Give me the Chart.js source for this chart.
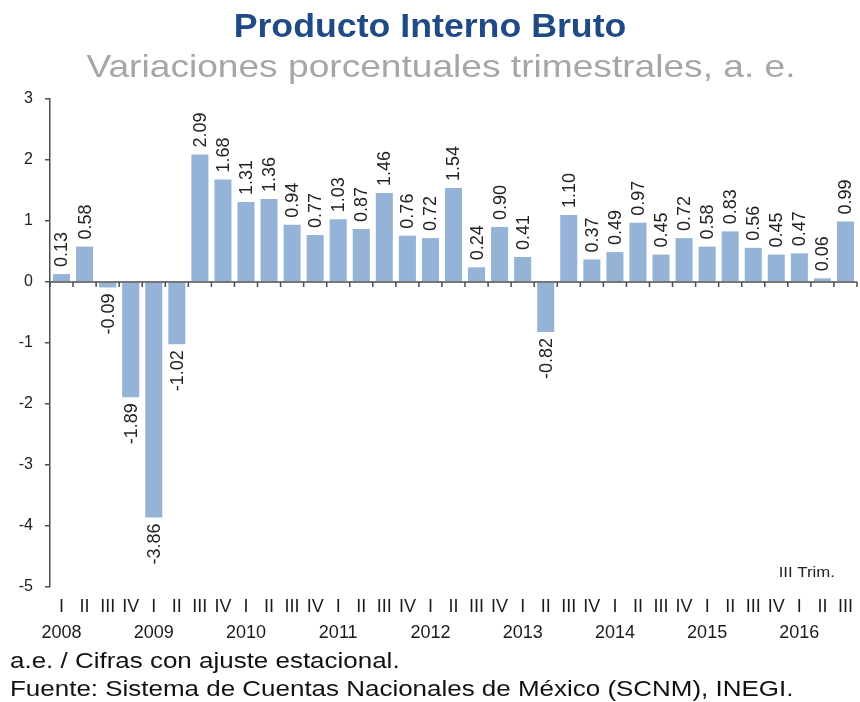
<!DOCTYPE html>
<html><head><meta charset="utf-8">
<script src="https://cdn.jsdelivr.net/npm/chart.js@4.4.1/dist/chart.umd.min.js"></script>
<style>html,body{margin:0;padding:0;background:#fff;}#wrap{position:relative;width:860px;height:702px;}</style>
</head><body><div id="wrap"><canvas id="c" width="860" height="702"></canvas></div>
<script>
const years = ['2008','2009','2010','2011','2012','2013','2014','2015','2016'];
const quarters = ['I','II','III','IV'];
const values = [0.13,0.58,-0.09,-1.89, -3.86,-1.02,2.09,1.68, 1.31,1.36,0.94,0.77, 1.03,0.87,1.46,0.76, 0.72,1.54,0.24,0.90, 0.41,-0.82,1.10,0.37, 0.49,0.97,0.45,0.72, 0.58,0.83,0.56,0.45, 0.47,0.06,0.99];
const yTicks = [3,2,1,0,-1,-2,-3,-4,-5];
const titleText = 'Producto Interno Bruto';
const subtitleText = 'Variaciones porcentuales trimestrales, a. e.';
const noteText = 'III Trim.';
const footerLines = ['a.e. / Cifras con ajuste estacional.','Fuente: Sistema de Cuentas Nacionales de México (SCNM), INEGI.'];

const labels = [];
years.forEach(y => quarters.forEach((q, i) => { if (labels.length < values.length) labels.push(i === 0 ? [q, y] : q); }));

const AX = '#4d4d4d';
const FONT = '"Liberation Sans", Arial, sans-serif';

function stretchText(ctx, text, x, y, sx) {
  ctx.save(); ctx.translate(x, y); ctx.scale(sx, 1); ctx.fillText(text, 0, 0); ctx.restore();
}

const deco = {
  id: 'deco',
  afterDatasetsDraw(chart) {
    const ctx = chart.ctx, xs = chart.scales.x, ys = chart.scales.y, ca = chart.chartArea;
    const y0 = ys.getPixelForValue(0);
    ctx.save();
    ctx.strokeStyle = AX; ctx.lineWidth = 1.5;
    ctx.beginPath();
    for (let i = 0; i <= values.length; i++) {
      let x;
      if (i === 0) x = ca.left; else if (i === values.length) x = ca.right;
      else x = (xs.getPixelForValue(i - 1) + xs.getPixelForValue(i)) / 2;
      ctx.moveTo(x, y0); ctx.lineTo(x, y0 + 5);
    }
    ctx.moveTo(ca.left, y0); ctx.lineTo(ca.right, y0);
    ctx.stroke();
    const meta = chart.getDatasetMeta(0);
    ctx.fillStyle = '#222';
    ctx.font = '18px ' + FONT;
    ctx.textBaseline = 'middle';
    meta.data.forEach((el, i) => {
      const v = values[i];
      ctx.save();
      if (v >= 0) { ctx.translate(el.x, el.y - 7); ctx.rotate(-Math.PI / 2); ctx.textAlign = 'left'; }
      else { ctx.translate(el.x, el.y + 6); ctx.rotate(-Math.PI / 2); ctx.textAlign = 'right'; }
      ctx.fillText(v.toFixed(2), 0, 1);
      ctx.restore();
    });
    ctx.font = '15px ' + FONT; ctx.textAlign = 'right'; ctx.textBaseline = 'middle';
    stretchText(ctx, noteText, 835, 573, 1.12);
    ctx.textAlign = 'center'; ctx.textBaseline = 'alphabetic';
    ctx.fillStyle = '#1F4A85'; ctx.font = 'bold 34px ' + FONT;
    stretchText(ctx, titleText, 430, 37, 1.05);
    ctx.fillStyle = '#A6A6A6'; ctx.font = '32px ' + FONT;
    stretchText(ctx, subtitleText, 441, 77, 1.16);
    ctx.textAlign = 'left'; ctx.fillStyle = '#111'; ctx.font = '22px ' + FONT;
    stretchText(ctx, footerLines[0], 10, 668, 1.18);
    stretchText(ctx, footerLines[1], 10, 696, 1.18);
    ctx.restore();
  }
};

new Chart(document.getElementById('c'), {
  type: 'bar',
  data: { labels, datasets: [{ data: values, backgroundColor: '#95B3D7', borderWidth: 0, barPercentage: 0.74, categoryPercentage: 1 }] },
  options: {
    responsive: false, animation: false,
    layout: { padding: { top: 99, left: 0, right: 2, bottom: 55 } },
    plugins: { legend: { display: false }, tooltip: { enabled: false }, title: { display: false } },
    scales: {
      x: {
        grid: { display: false, drawTicks: false }, border: { display: false },
        ticks: { autoSkip: false, maxRotation: 0, minRotation: 0, padding: 7, color: '#1a1a1a', font: { family: FONT, size: 18, lineHeight: 1.45 } },
        afterFit(s) { s.height = 60; }
      },
      y: {
        min: -5, max: 3,
        afterBuildTicks(s) { s.ticks = yTicks.map(v => ({ value: v })); },
        grid: { color: 'transparent', tickColor: AX, tickLength: 5, lineWidth: 1.5 },
        border: { color: AX, width: 1.5 },
        ticks: { padding: 12, color: '#222', font: { family: FONT, size: 16 } },
        afterFit(s) { s.width = 50; }
      }
    }
  },
  plugins: [deco]
});
</script></body></html>
